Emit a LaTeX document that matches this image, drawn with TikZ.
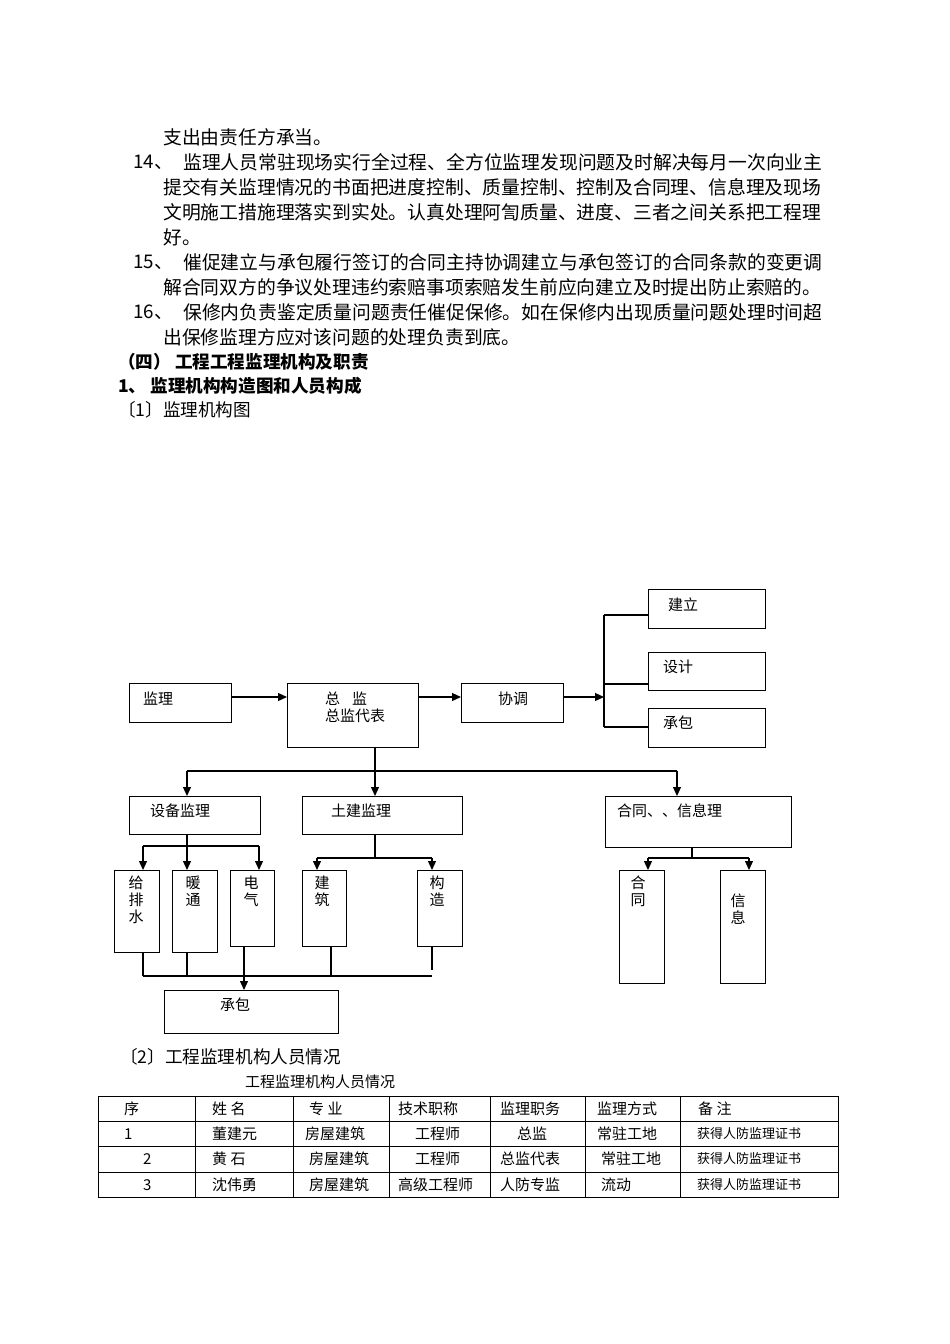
\documentclass[tikz,border=0pt]{standalone}
\usepackage{fontspec}
\setmainfont{Noto Sans CJK SC}
\usetikzlibrary{arrows.meta}
\begin{document}
\begin{tikzpicture}[x=1pt,y=-1pt,
 box/.style={draw,line width=1.2pt,inner sep=0pt,anchor=north west},
 tx/.style={anchor=west,inner sep=0pt,font=\fontsize{15}{15}\selectfont},
 body/.style={anchor=west,inner sep=0pt,font=\fontsize{18.8}{19}\selectfont},
 ln/.style={line width=1.2pt},
 ar/.style={line width=1.2pt,-{Triangle[length=9pt,width=8pt]}},
 cell/.style={anchor=west,inner sep=0pt,font=\fontsize{15}{15}\selectfont}]
\useasboundingbox (0,0) rectangle (950,1344);
\fill[white] (0,0) rectangle (950,1344);
% body text
\node[body] (t1) at (163,137) {支出由责任方承当。};
\node[body] (t2a) at (133,162) {14、};
\node[body] (t2) at (183,162) {监理人员常驻现场实行全过程、全方位监理发现问题及时解决每月一次向业主};
\node[body] (t3) at (163,187) {提交有关监理情况的书面把进度控制、质量控制、控制及合同理、信息理及现场};
\node[body] (t4) at (163,212) {文明施工措施理落实到实处。认真处理阿訇质量、进度、三者之间关系把工程理};
\node[body] (t5) at (163,237) {好。};
\node[body] (t6a) at (133,262) {15、};
\node[body] (t6) at (183,262) {催促建立与承包履行签订的合同主持协调建立与承包签订的合同条款的变更调};
\node[body] (t7) at (163,287) {解合同双方的争议处理违约索赔事项索赔发生前应向建立及时提出防止索赔的。};
\node[body] (t8a) at (133,312) {16、};
\node[body] (t8) at (183,312) {保修内负责鉴定质量问题责任催促保修。如在保修内出现质量问题处理时间超};
\node[body] (t9) at (163,337) {出保修监理方应对该问题的处理负责到底。};
\node[body,font=\fontsize{17.6}{18}\selectfont\bfseries] (h1) at (118,362) {（四） 工程工程监理机构及职责};
\node[body,font=\fontsize{17.6}{18}\selectfont\bfseries] (h2) at (118,386) {1、 监理机构构造图和人员构成};
\node[body,font=\fontsize{17.6}{18}\selectfont] (h3) at (118,410) {〔1〕监理机构图};
% diagram boxes
\node[box,minimum width=102,minimum height=39] (jl) at (129,683) {};
\node[box,minimum width=131,minimum height=64] (zj) at (287,683) {};
\node[box,minimum width=102,minimum height=39] (xt) at (461,683) {};
\node[box,minimum width=117,minimum height=39] (jli) at (648,589) {};
\node[box,minimum width=117,minimum height=38] (sj) at (648,652) {};
\node[box,minimum width=117,minimum height=39] (cb) at (648,708) {};
\node[box,minimum width=131,minimum height=38] (sb) at (129,796) {};
\node[box,minimum width=160,minimum height=38] (tj) at (302,796) {};
\node[box,minimum width=186,minimum height=51] (ht) at (605,796) {};
\node[box,minimum width=45,minimum height=82] (gps) at (114,870) {};
\node[box,minimum width=45,minimum height=82] (nt) at (172,870) {};
\node[box,minimum width=44,minimum height=76] (dq) at (230,870) {};
\node[box,minimum width=44,minimum height=76] (jz) at (302,870) {};
\node[box,minimum width=45,minimum height=76] (gz) at (417,870) {};
\node[box,minimum width=45,minimum height=113] (hto) at (619,870) {};
\node[box,minimum width=45,minimum height=113] (xx) at (720,870) {};
\node[box,minimum width=174,minimum height=43] (cb2) at (164,990) {};
% texts
\node[tx] (l1) at (143,699) {监理};
\node[tx] (l2) at (325,699) {总\hspace{12pt}监};
\node[tx] (l3) at (325,716) {总监代表};
\node[tx] (l4) at (498,699) {协调};
\node[tx] (l5) at (668,605) {建立};
\node[tx] (l6) at (663,667) {设计};
\node[tx] (l7) at (663,723) {承包};
\node[tx] (l8) at (150,811) {设备监理};
\node[tx] (l9) at (331,811) {土建监理};
\node[tx] (l10) at (617,811) {合同、、信息理};
\node[tx,anchor=north,align=center,font=\fontsize{15}{17}\selectfont] (v1) at (136,876) {给\\排\\水};
\node[tx,anchor=north,align=center,font=\fontsize{15}{17}\selectfont] (v2) at (193,876) {暖\\通};
\node[tx,anchor=north,align=center,font=\fontsize{15}{17}\selectfont] (v3) at (251,876) {电\\气};
\node[tx,anchor=north,align=center,font=\fontsize{15}{17}\selectfont] (v4) at (322,876) {建\\筑};
\node[tx,anchor=north,align=center,font=\fontsize{15}{17}\selectfont] (v5) at (437,876) {构\\造};
\node[tx,anchor=north,align=center,font=\fontsize{15}{17}\selectfont] (v6) at (638,876) {合\\同};
\node[tx,anchor=north,align=center,font=\fontsize{15}{17}\selectfont] (v7) at (738,894) {信\\息};
\node[tx] (l11) at (220,1005) {承包};
% connectors
\coordinate (br) at (604,697);
\draw[ar] (jl.west |- br) ++(102,0) -- (zj.west |- br);
\draw[ar] (zj.east |- br) -- (xt.west |- br);
\draw[ar] (xt.east |- br) -- (br);
\draw[ln] (604,615) -- (604,727);
\draw[ln] (604,615) -- (jli.west |- 0,615);
\draw[ln] (604,684) -- (sj.west |- 0,684);
\draw[ln] (604,727) -- (cb.west |- 0,727);
\draw[ln] (375,747) -- (375,771);
\draw[ln] (187,771) -- (677,771);
\draw[ar] (187,771) -- (187,796);
\draw[ar] (375,771) -- (375,796);
\draw[ar] (677,771) -- (677,796);
\draw[ln] (187,834) -- (187,846);
\draw[ln] (143,846) -- (259,846);
\draw[ar] (143,846) -- (143,870);
\draw[ar] (187,846) -- (187,870);
\draw[ar] (259,846) -- (259,870);
\draw[ln] (375,834) -- (375,858);
\draw[ln] (317,858) -- (432,858);
\draw[ar] (317,858) -- (317,870);
\draw[ar] (432,858) -- (432,870);
\draw[ln] (692,847) -- (692,858);
\draw[ln] (648,858) -- (749,858);
\draw[ar] (648,858) -- (648,870);
\draw[ar] (749,858) -- (749,870);
\draw[ln] (143,952) -- (143,976);
\draw[ln] (187,952) -- (187,976);
\draw[ln] (331,946) -- (331,976);
\draw[ln] (432,946) -- (432,970);
\draw[ln] (143,976) -- (432,976);
\draw[ar] (244,946) -- (244,990);
% table
\node[body,font=\fontsize{17.6}{18}\selectfont] (c0) at (120,1057) {〔2〕工程监理机构人员情况};
\node[cell] (c1) at (245,1082) {工程监理机构人员情况};
\draw[line width=0.8pt] (98,1096) rectangle (838,1197);
\foreach \yy in {1121,1146,1172} \draw[line width=0.8pt] (98,\yy) -- (838,\yy);
\foreach \xx in {195,293,389,490,585,680} \draw[line width=0.8pt] (\xx,1096) -- (\xx,1197);
\node[cell] at (124,1109) {序};
\node[cell] at (212,1109) {姓 名};
\node[cell] at (309,1109) {专 业};
\node[cell] at (398,1109) {技术职称};
\node[cell] at (500,1109) {监理职务};
\node[cell] at (597,1109) {监理方式};
\node[cell] at (698,1109) {备 注};
\node[cell] at (124,1134) {1};
\node[cell] at (212,1134) {董建元};
\node[cell] at (305,1134) {房屋建筑};
\node[cell] at (415,1134) {工程师};
\node[cell] at (517,1134) {总监};
\node[cell] at (597,1134) {常驻工地};
\node[cell,font=\fontsize{13}{13}\selectfont] at (697,1134) {获得人防监理证书};
\node[cell] at (143,1159) {2};
\node[cell] at (212,1159) {黄 石};
\node[cell] at (309,1159) {房屋建筑};
\node[cell] at (415,1159) {工程师};
\node[cell] at (500,1159) {总监代表};
\node[cell] at (601,1159) {常驻工地};
\node[cell,font=\fontsize{13}{13}\selectfont] at (697,1159) {获得人防监理证书};
\node[cell] at (143,1185) {3};
\node[cell] at (212,1185) {沈伟勇};
\node[cell] at (309,1185) {房屋建筑};
\node[cell] at (398,1185) {高级工程师};
\node[cell] at (500,1185) {人防专监};
\node[cell] at (601,1185) {流动};
\node[cell,font=\fontsize{13}{13}\selectfont] at (697,1185) {获得人防监理证书};
\end{tikzpicture}
\end{document}
